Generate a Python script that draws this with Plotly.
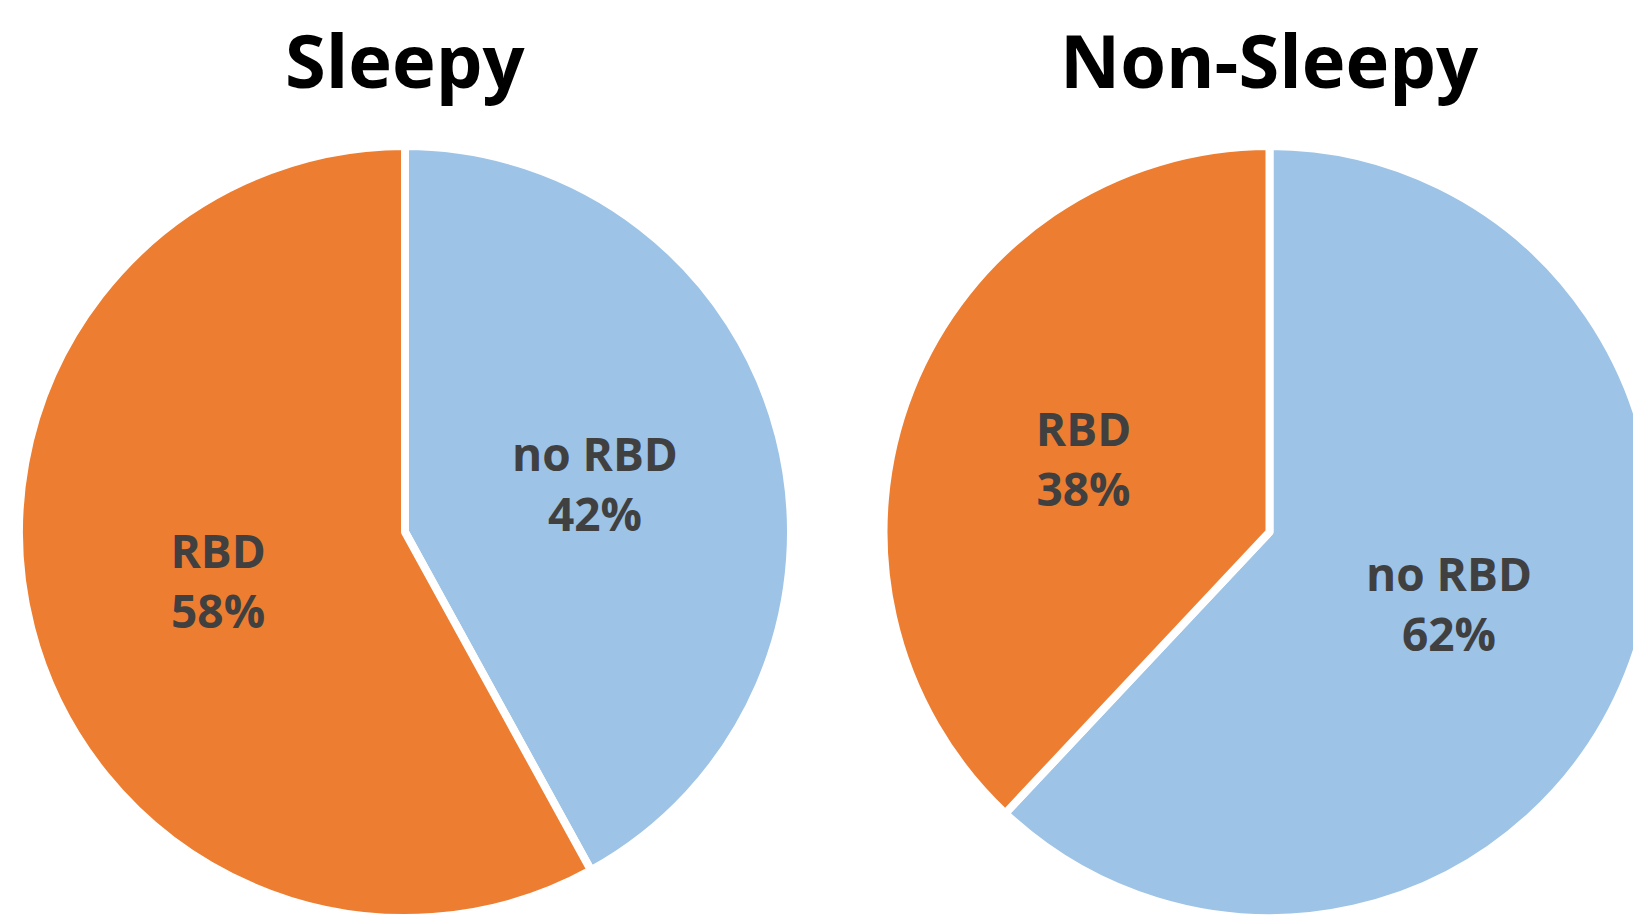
import plotly.graph_objects as go

# Share of patients with / without RBD in each group
categories = ["no RBD", "RBD"]
sleepy_values = [42, 58]
non_sleepy_values = [62, 38]
group_titles = ["Sleepy", "Non-Sleepy"]

colors = ["#9DC3E6", "#ED7D31"]

W, H = 1660, 920
R = 386          # pie radius in px (stroke included)
CY = 532         # vertical center of both pies, px from top
centers_x = [405, 1269.5]


def domain_for(cx):
    return dict(
        x=[(cx - R) / W, (cx + R) / W],
        y=[(H - (CY + R)) / H, (H - (CY - R)) / H],
    )


fig = go.Figure()
for cx, vals in zip(centers_x, [sleepy_values, non_sleepy_values]):
    fig.add_trace(go.Pie(
        labels=categories,
        values=vals,
        sort=False,
        direction="clockwise",
        rotation=0,
        domain=domain_for(cx),
        marker=dict(colors=colors, line=dict(color="white", width=8)),
        textinfo="label+percent",
        texttemplate="%{label}<br>%{percent:.0%}",
        textposition="inside",
        insidetextorientation="horizontal",
        textfont=dict(family="Open Sans", size=46, color="#404040", weight="bold"),
        hoverinfo="label+percent",
        showlegend=False,
    ))

for cx, title in zip(centers_x, group_titles):
    fig.add_annotation(
        text=f"<b>{title}</b>",
        x=cx / W, y=1 - 59 / H, xref="paper", yref="paper",
        xanchor="center", yanchor="middle", showarrow=False,
        font=dict(family="Open Sans", size=74, color="black"),
    )

fig.update_layout(
    width=W, height=H,
    margin=dict(l=0, r=0, t=0, b=0),
    paper_bgcolor="white", plot_bgcolor="white",
    showlegend=False,
)

fig.write_html(
    "out.html",
    post_script="document.body.style.margin='0';document.body.style.overflow='hidden';",
)
